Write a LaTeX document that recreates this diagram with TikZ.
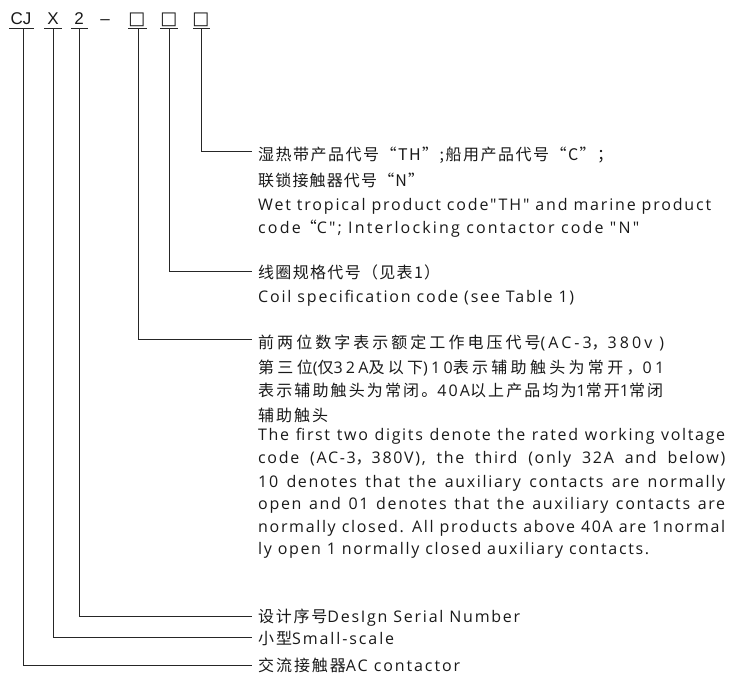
\documentclass[tikz,border=0pt]{standalone}
\usepackage{fontspec}
\setmainfont{Open Sans}[Ligatures=TeXOff]
\newfontfamily\cjkfont{Noto Sans CJK SC}
\newfontfamily\topfont{Liberation Sans}
\newfontfamily\symfont{DejaVu Sans}
\newcommand\LS{0}
\newcommand\cj[1]{{\cjkfont\addfontfeature{LetterSpace=\LS}#1}}
\newcommand\fitline[2]{%
  \setbox0\hbox{\def\LS{0}\addfontfeature{LetterSpace=0}#2}%
  \setbox2\hbox{\def\LS{10}\addfontfeature{LetterSpace=10}#2}%
  \pgfmathsetmacro\fitls{10*(#1-\the\wd0)/(\the\wd2-\the\wd0)}%
  \xdef\lastls{\fitls}%
  \hbox{\edef\LS{\fitls}\addfontfeature{LetterSpace=\LS}#2}}
\newcommand\justline[2]{%
  \makebox[#1][s]{\edef\LS{\lastls}\addfontfeature{LetterSpace=\LS}#2}}
\begin{document}
\begin{tikzpicture}[x=1pt,y=-1pt,
  conn/.style={line width=1pt, draw=black!85},
  lbl/.style={anchor=base west, inner sep=0pt, text=black!90, font=\fontsize{16}{18}\selectfont},
  topl/.style={anchor=base, inner sep=0pt, text=black!90, font=\topfont\fontsize{17}{18}\selectfont},
  boxl/.style={anchor=base, inner sep=0pt, text=black!90, font=\symfont\fontsize{18}{18}\selectfont}]
\useasboundingbox (0,0) rectangle (742,684);
% top code
\node[topl] (cj) at (21,25) {CJ};
\node[topl] (x) at (53,25) {X};
\node[topl] (two) at (79,25) {2};
\node[topl] (dash) at (105,25) {–};
\node[boxl] (b1) at (137,25) {□};
\node[boxl] (b2) at (169,25) {□};
\node[boxl] (b3) at (201,25) {□};
% underlines
\coordinate (ucj) at (23,29);
\coordinate (ux) at (53,29);
\coordinate (utwo) at (79,29);
\coordinate (ub1) at (138,29);
\coordinate (ub2) at (169,29);
\coordinate (ub3) at (201,29);
\draw[conn] (9,29) -- (34,29);
\draw[conn] (44,29) -- (62,29);
\draw[conn] (71,29) -- (88,29);
\draw[conn] (128,29) -- (147,29);
\draw[conn] (160,29) -- (178,29);
\draw[conn] (193,29) -- (210,29);
% block 1
\node[lbl] (a1) at (258,161) {\fitline{355}{\cj{湿热带产品代号“TH”;船用产品代号“C”；}}};
\node[lbl] (a2) at (258,187) {\fitline{166}{\cj{联锁接触器代号“N”}}};
\node[lbl] (a3) at (258,211) {\fitline{453}{Wet tropical product code"TH" and marine product}};
\node[lbl] (a4) at (258,234) {\fitline{381}{code\cj{“}C"; Interlocking contactor code "N"}};
% block 2
\node[lbl] (c1) at (258,279) {\fitline{182}{\cj{线圈规格代号（见表1）}}};
\node[lbl] (c2) at (258,303) {\fitline{316}{Coil specification code (see Table 1)}};
% block 3
\node[lbl] (d1) at (258,349) {\fitline{406}{\cj{前两位数字表示额定工作电压代号}(AC-3\cj{，}380v )}};
\node[lbl] (d2) at (258,374) {\fitline{406}{\cj{第三位}(\cj{仅}32A\cj{及以下})10\cj{表示辅助触头为常开，}01}};
\node[lbl] (d3) at (258,397) {\fitline{405}{\cj{表示辅助触头为常闭。}40A\cj{以上产品均为}1\cj{常开}1\cj{常闭}}};
\node[lbl] (d4) at (258,422) {\fitline{70}{\cj{辅助触头}}};
\node[lbl] (e6) at (258,554) {\fitline{391}{ly open 1 normally closed auxiliary contacts.}};
\node[lbl] (e1) at (258,441) {\justline{467pt}{The first two digits denote the rated working voltage}};
\node[lbl] (e2) at (258,464) {\justline{467pt}{code (AC-3\cj{，}380V), the third (only 32A and below)}};
\node[lbl] (e3) at (258,487) {\justline{467pt}{10 denotes that the auxiliary contacts are normally}};
\node[lbl] (e4) at (258,509) {\justline{467pt}{open and 01 denotes that the auxiliary contacts are}};
\node[lbl] (e5) at (258,532) {\justline{467pt}{normally closed. All products above 40A are 1normal}};
% bottom
\node[lbl] (f1) at (258,622) {\fitline{262}{\cj{设计序号}DesIgn Serial Number}};
\node[lbl] (f2) at (258,644) {\fitline{136}{\cj{小型}Small-scale}};
\node[lbl] (f3) at (258,671) {\fitline{202}{\cj{交流接触器}AC contactor}};
% connectors
\draw[conn] (ub3) |- ([shift={(-6,-9)}]a1.base west);
\draw[conn] (ub2) |- ([shift={(-6,-7)}]c1.base west);
\draw[conn] (ub1) |- ([shift={(-6,-9)}]d1.base west);
\draw[conn] (utwo) |- ([shift={(-6,-6)}]f1.base west);
\draw[conn] (ux) |- ([shift={(-6,-7)}]f2.base west);
\draw[conn] (ucj) |- ([shift={(-6,-6)}]f3.base west);
\end{tikzpicture}
\end{document}
